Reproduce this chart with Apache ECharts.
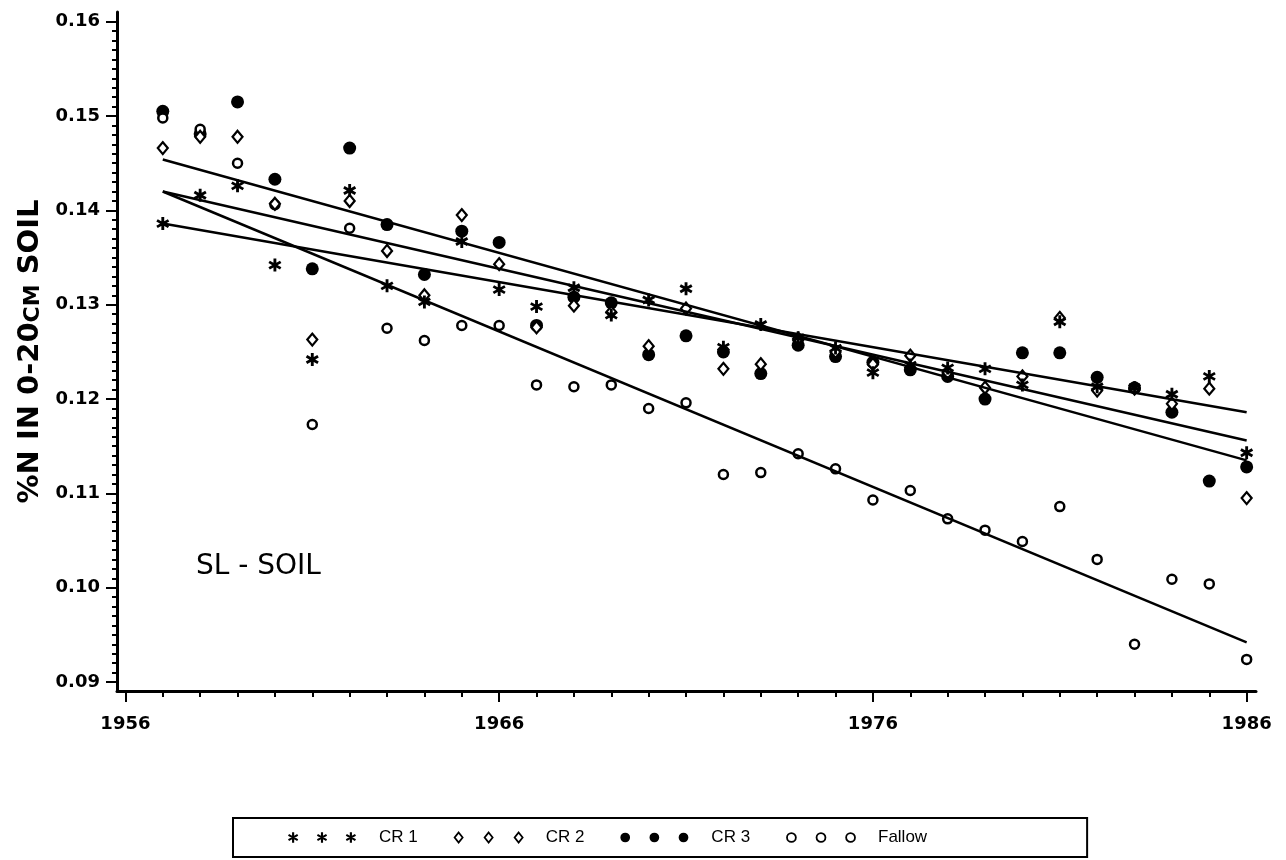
<!DOCTYPE html>
<html>
<head>
<meta charset="utf-8">
<script src="https://cdn.jsdelivr.net/npm/echarts@6/dist/echarts.min.js"></script>
<style>
  html, body { margin: 0; padding: 0; background: #fff; }
  #main { width: 1286px; height: 860px; }
</style>
</head>
<body>
<div id="main"></div>
<script>
// years and %N values
const years = [1957, 1958, 1959, 1960, 1961, 1962, 1963, 1964, 1965, 1966,
               1967, 1968, 1969, 1970, 1971, 1972, 1973, 1974, 1975, 1976,
               1977, 1978, 1979, 1980, 1981, 1982, 1983, 1984, 1985, 1986];
const cr1 = [0.1386, 0.1416, 0.1426, 0.1342, 0.1242, 0.1421, 0.1320, 0.1303, 0.1367, 0.1316,
             0.1298, 0.1318, 0.1289, 0.1305, 0.1317, 0.1255, 0.1279, 0.1265, 0.1254, 0.1228,
             0.1236, 0.1233, 0.1232, 0.1215, 0.1282, 0.1213, 0.1212, 0.1205, 0.1224, 0.1143];
const cr2 = [0.1466, 0.1478, 0.1478, 0.1407, 0.1263, 0.1410, 0.1357, 0.1310, 0.1395, 0.1343,
             0.1276, 0.1299, 0.1292, 0.1256, 0.1296, 0.1232, 0.1237, 0.1264, 0.1250, 0.1237,
             0.1246, 0.1228, 0.1212, 0.1224, 0.1286, 0.1209, 0.1211, 0.1195, 0.1211, 0.1095];
const cr3 = [0.1505, 0.1481, 0.1515, 0.1433, 0.1338, 0.1466, 0.1385, 0.1332, 0.1378, 0.1366,
             0.1278, 0.1308, 0.1302, 0.1247, 0.1267, 0.1250, 0.1227, 0.1257, 0.1245, 0.1239,
             0.1231, 0.1224, 0.1200, 0.1249, 0.1249, 0.1223, 0.1212, 0.1186, 0.1113, 0.1128];
const fallow = [0.1498, 0.1486, 0.1450, 0.1406, 0.1173, 0.1381, 0.1275, 0.1262, 0.1278, 0.1278,
                0.1215, 0.1213, 0.1215, 0.1190, 0.1196, 0.1120, 0.1122, 0.1142, 0.1126, 0.1093,
                0.1103, 0.1073, 0.1061, 0.1049, 0.1086, 0.1030, 0.0940, 0.1009, 0.1004, 0.0924];

// fitted trend lines (end points)
const fitYears = [1957, 1986];
const cr1Fit = [0.1386, 0.1186];
const cr2Fit = [0.1420, 0.1156];
const cr3Fit = [0.1454, 0.1135];
const fallowFit = [0.1420, 0.0942];

// tick labels
const xMajor = [1956, 1966, 1976, 1986];
const yMajor = [0.09, 0.10, 0.11, 0.12, 0.13, 0.14, 0.15, 0.16];
const xMinor = [];
for (let y = 1956; y <= 1986; y++) xMinor.push(y);
const yMinor = [];
for (let i = 90; i <= 160; i++) yMinor.push(i / 1000);

// symbol paths
function starPath(cx, L, w) {
  const c = Math.cos(Math.PI / 3), s = Math.sin(Math.PI / 3);
  const bars = [[0, 1, 1, 0], [s, c, c, -s], [-s, c, c, s]];
  return bars.map(([dx, dy, px, py]) => {
    const pts = [
      [cx + L * dx + w * px, L * dy + w * py],
      [cx + L * dx - w * px, L * dy - w * py],
      [cx - L * dx - w * px, -L * dy - w * py],
      [cx - L * dx + w * px, -L * dy + w * py]
    ];
    return 'M' + pts.map(p => p[0].toFixed(2) + ',' + p[1].toFixed(2)).join('L') + 'Z';
  }).join(' ');
}
function diamondPath(cx, a, b) {
  return `M${cx},${-b}L${cx + a},0L${cx},${b}L${cx - a},0Z`;
}
function circlePath(cx, r) {
  return `M${cx - r},0A${r},${r},0,1,0,${cx + r},0A${r},${r},0,1,0,${cx - r},0Z`;
}
const offs = [0, 30, 60];
const starSym = 'path://' + starPath(0, 7, 1.5);
const diamondSym = 'path://' + diamondPath(0, 5, 6);

const font = '"DejaVu Sans", sans-serif';
const black = '#000';

let myChart = echarts.init(document.getElementById('main'));

const xRange = { min: 1955.775, max: 1986.25 };
const yRange = { min: 0.08905, max: 0.16103 };

let option = {
  animation: false,
  backgroundColor: '#fff',
  grid: { left: 117, right: 30, top: 12, bottom: 169 },
  legend: {
    left: 233,
    top: 818,
    orient: 'horizontal',
    selectedMode: false,
    padding: [11, 160, 11, 55],
    itemGap: 36,
    itemWidth: 68,
    itemHeight: 12,
    borderColor: black,
    borderWidth: 2,
    textStyle: {
      fontFamily: '"Liberation Sans Narrow", "Liberation Sans", sans-serif',
      fontSize: 17,
      color: black,
      padding: [0, 0, 0, 18]
    },
    data: [
      { name: 'CR 1', icon: 'path://' + offs.map(o => starPath(o, 5.5, 1.1)).join(' ') },
      { name: 'CR 2', icon: 'path://' + offs.map(o => diamondPath(o, 4, 5)).join(' '), itemStyle: { borderWidth: 1.8 } },
      { name: 'CR 3', icon: 'path://' + offs.map(o => circlePath(o, 5)).join(' ') },
      { name: 'Fallow', icon: 'path://' + offs.map(o => circlePath(o, 4.5)).join(' '), itemStyle: { borderWidth: 1.8 } }
    ]
  },
  graphic: [{
    type: 'text',
    left: 196,
    top: 553,
    style: { text: 'SL - SOIL', font: '28px "DejaVu Sans"', fill: black }
  }],
  xAxis: [{
    type: 'value',
    ...xRange,
    position: 'bottom',
    axisLine: { show: true, onZero: false, lineStyle: { color: black, width: 3 } },
    axisTick: { show: true, customValues: xMajor, length: 11, lineStyle: { color: black, width: 2 } },
    axisLabel: {
      customValues: xMajor, margin: 24, color: black,
      fontFamily: font, fontWeight: 'bold', fontSize: 18,
      formatter: v => String(Math.round(v))
    },
    splitLine: { show: false }
  }, {
    type: 'value',
    ...xRange,
    position: 'bottom',
    axisLine: { show: false, onZero: false },
    axisTick: { show: true, customValues: xMinor, length: 6, lineStyle: { color: black, width: 2 } },
    axisLabel: { show: false },
    splitLine: { show: false }
  }],
  yAxis: [{
    type: 'value',
    ...yRange,
    position: 'left',
    name: '%N IN 0-20{s|CM} SOIL',
    nameLocation: 'middle',
    nameGap: 66,
    nameTextStyle: {
      fontFamily: font, fontWeight: 'bold', fontSize: 29, color: black,
      rich: { s: { fontFamily: font, fontWeight: 'bold', fontSize: 22, color: black, verticalAlign: 'bottom' } }
    },
    axisLine: { show: true, lineStyle: { color: black, width: 3 } },
    axisTick: { show: true, customValues: yMajor, length: 11, lineStyle: { color: black, width: 2 } },
    axisLabel: {
      customValues: yMajor, margin: 17, color: black,
      fontFamily: font, fontWeight: 'bold', fontSize: 18,
      formatter: v => v.toFixed(2)
    },
    splitLine: { show: false }
  }, {
    type: 'value',
    ...yRange,
    position: 'left',
    axisLine: { show: false },
    axisTick: { show: true, customValues: yMinor, length: 5, lineStyle: { color: black, width: 2 } },
    axisLabel: { show: false },
    splitLine: { show: false }
  }],
  series: [
    {
      name: 'CR 3', type: 'scatter', symbol: 'circle', symbolSize: 13,
      itemStyle: { color: black, opacity: 1 },
      data: years.map((y, i) => [y, cr3[i]])
    },
    {
      name: 'Fallow', type: 'scatter', symbol: 'circle', symbolSize: 9,
      itemStyle: { color: '#fff', borderColor: black, borderWidth: 2.5, opacity: 1 },
      data: years.map((y, i) => [y, fallow[i]])
    },
    {
      name: 'CR 2', type: 'scatter', symbol: diamondSym, symbolSize: [10, 12],
      itemStyle: { color: '#fff', borderColor: black, borderWidth: 2.2, opacity: 1 },
      data: years.map((y, i) => [y, cr2[i]])
    },
    {
      name: 'CR 1', type: 'scatter', symbol: starSym, symbolSize: 13,
      itemStyle: { color: black, opacity: 1 },
      data: years.map((y, i) => [y, cr1[i]])
    },
    ...[['CR 1 fit', cr1Fit], ['CR 2 fit', cr2Fit], ['CR 3 fit', cr3Fit], ['Fallow fit', fallowFit]].map(([n, f]) => ({
      name: n, type: 'line', showSymbol: false, z: 5,
      lineStyle: { color: black, width: 2.5 },
      data: fitYears.map((y, i) => [y, f[i]])
    }))
  ]
};

myChart.setOption(option);
window.addEventListener('resize', function () {
  myChart.resize();
}, false);
</script>
</body>
</html>
